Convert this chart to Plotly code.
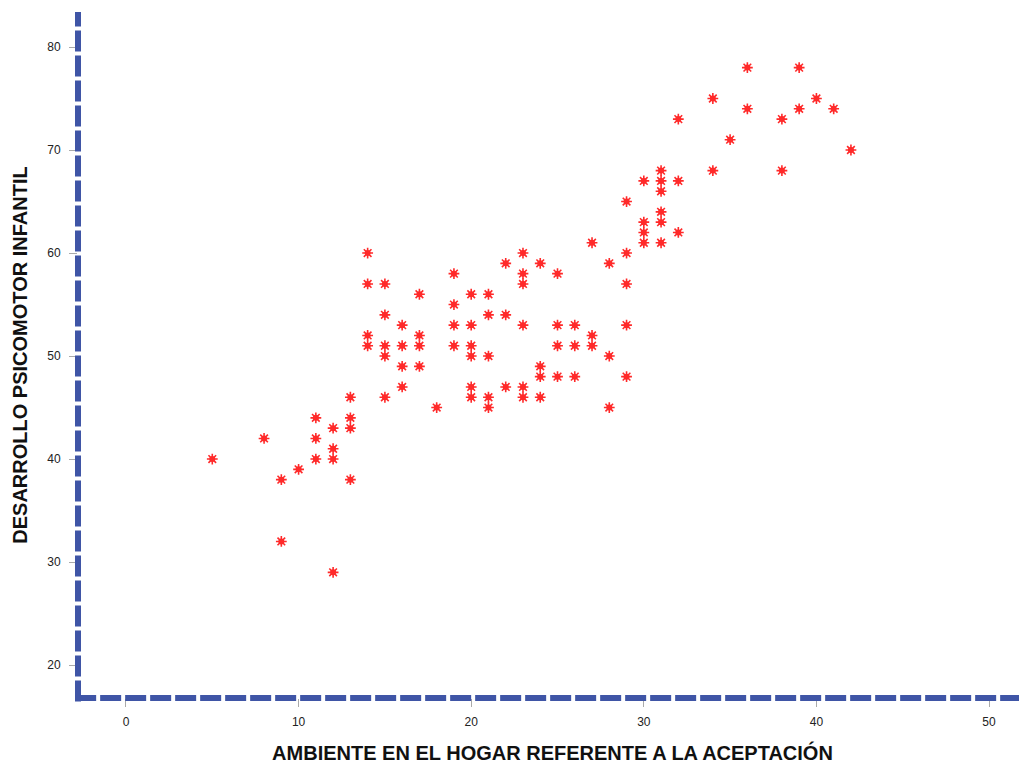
import plotly.graph_objects as go

# Data
ambiente = (
    [5] + [8] + [9]*2 + [10] + [11]*3 + [12]*4 + [13]*4 + [14]*4 + [15]*5 +
    [16]*4 + [17]*4 + [18] + [19]*4 + [20]*6 + [21]*5 + [22]*3 + [23]*6 +
    [24]*4 + [25]*4 + [26]*3 + [27]*3 + [28]*3 + [29]*5 + [30]*4 + [31]*6 +
    [32]*3 + [34]*2 + [35] + [36]*2 + [38]*2 + [39]*2 + [40] + [41] + [42]
)
desarrollo = [
    40,
    42,
    38, 32,
    39,
    44, 42, 40,
    43, 41, 40, 29,
    46, 44, 43, 38,
    60, 57, 52, 51,
    57, 54, 51, 50, 46,
    53, 51, 49, 47,
    56, 52, 51, 49,
    45,
    58, 55, 53, 51,
    56, 53, 51, 50, 47, 46,
    56, 54, 50, 46, 45,
    59, 54, 47,
    60, 58, 57, 53, 47, 46,
    59, 49, 48, 46,
    58, 53, 51, 48,
    53, 51, 48,
    61, 52, 51,
    59, 50, 45,
    65, 60, 57, 53, 48,
    67, 63, 62, 61,
    68, 67, 66, 64, 63, 61,
    73, 67, 62,
    75, 68,
    71,
    78, 74,
    73, 68,
    78, 74,
    75,
    74,
    70,
]
x_ticks = [0, 10, 20, 30, 40, 50]
y_ticks = [20, 30, 40, 50, 60, 70, 80]

RED = "#FF2A2A"
AXIS_BLUE = "#3F55A6"

fig = go.Figure()
fig.add_trace(go.Scatter(
    x=ambiente, y=desarrollo, mode="markers",
    marker=dict(symbol="circle", size=6, color=RED, line=dict(width=0)),
    hoverinfo="skip", showlegend=False,
))
fig.add_trace(go.Scatter(
    x=ambiente, y=desarrollo, mode="markers",
    marker=dict(symbol="asterisk-open", size=9, color=RED,
                line=dict(width=1.6, color=RED)),
    showlegend=False,
))

fig.add_shape(type="line", xref="paper", yref="paper", x0=0, x1=0, y0=-0.005, y1=1,
              line=dict(color=AXIS_BLUE, width=6, dash="21px,4px"), layer="above")
fig.add_shape(type="line", xref="paper", yref="paper", x0=-0.003, x1=1.03, y0=0, y1=0,
              line=dict(color=AXIS_BLUE, width=6, dash="21px,4px"), layer="above")

fig.update_layout(
    width=1019, height=756,
    margin=dict(l=70, r=0, t=4, b=66),
    paper_bgcolor="white", plot_bgcolor="white",
    font=dict(family="Liberation Sans, Arial, sans-serif", color="#222222"),
    xaxis=dict(
        range=[-2.78, 52.2], tickvals=x_ticks, ticks="outside", ticklen=8,
        tickcolor="#AAAAAA", tickwidth=1, showgrid=False, zeroline=False,
        showline=False, tickfont=dict(size=12, color="#222222"),
        ticklabelstandoff=5,
        title=dict(text="<b>AMBIENTE EN EL HOGAR REFERENTE A LA ACEPTACIÓN</b>",
                   font=dict(size=20, color="#111111"), standoff=18),
    ),
    yaxis=dict(
        range=[16.8, 83.4], tickvals=y_ticks, ticks="outside", ticklen=8,
        tickcolor="#AAAAAA", tickwidth=1, showgrid=False, zeroline=False,
        showline=False, tickfont=dict(size=12, color="#222222"),
        ticklabelstandoff=6,
        title=dict(text="<b>DESARROLLO PSICOMOTOR INFANTIL</b>",
                   font=dict(size=20, color="#111111"), standoff=14),
    ),
)

fig.write_html("out.html", post_script="document.body.style.overflow='hidden';")
